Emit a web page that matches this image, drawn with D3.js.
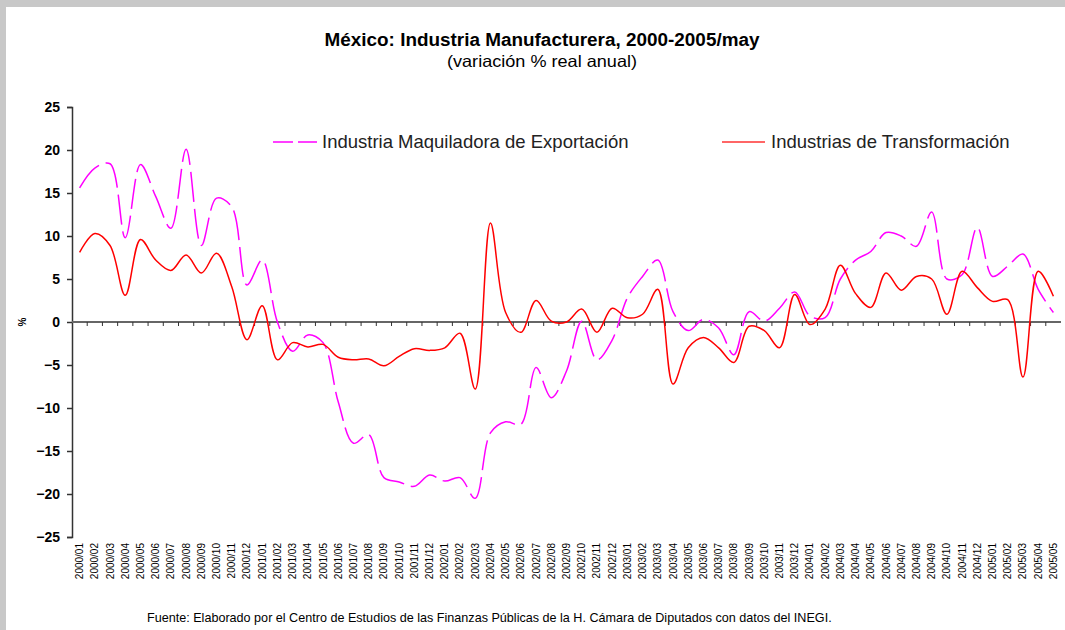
<!DOCTYPE html>
<html>
<head>
<meta charset="utf-8">
<script src="https://cdn.jsdelivr.net/npm/d3@7"></script>
<style>
  body { margin: 0; background: #fff; }
  text { font-family: "Liberation Sans", Arial, sans-serif; }
</style>
</head>
<body>
<div id="chart"></div>
<script>
// months 2000/01 .. 2005/05
const months = []
for (let y = 2000; y <= 2005; y++) {
  for (let m = 1; m <= 12; m++) {
    if (y === 2005 && m > 5) break
    months.push(y + "/" + String(m).padStart(2, "0"))
  }
}

// Industria Maquiladora de Exportación (% anual)
const maquiladora = [
  15.6, 17.9, 18.4, 9.8, 18.3, 14.6, 10.9, 20.1, 8.9, 14.4, 13.4, 4.3,
  7.2, 0.0, -3.4, -1.5, -2.4, -9.3, -14.1, -13.1, -18.1, -18.6, -19.1, -17.8,
  -18.5, -18.1, -20.5, -12.9, -11.6, -11.9, -5.3, -8.8, -5.7, 0.1, -4.4, -2.1,
  2.8, 5.3, 7.2, 1.2, -1.0, 0.3, -0.7, -3.8, 1.2, 0.1, 1.6, 3.5,
  0.7, 0.5, 5.0, 7.2, 8.2, 10.4, 10.0, 8.8, 12.8, 5.0, 5.5, 11.0,
  5.3, 6.5, 7.9, 3.8, 1.1
]

// Industrias de Transformación (% anual)
const transformacion = [
  8.1, 10.3, 8.9, 3.1, 9.6, 7.2, 6.0, 7.8, 5.7, 8.0, 4.1, -2.05,
  1.9, -4.4, -2.4, -2.9, -2.6, -4.1, -4.4, -4.3, -5.1, -4.0, -3.1, -3.3,
  -3.0, -1.3, -7.8, 11.5, 1.1, -1.2, 2.5, 0.1, 0.0, 1.5, -1.2, 1.6,
  0.5, 0.9, 3.8, -7.2, -3.0, -1.8, -3.0, -4.7, -0.5, -1.0, -3.0, 3.2,
  -0.3, 1.5, 6.6, 3.3, 1.7, 5.7, 3.7, 5.3, 5.0, 0.9, 5.9, 4.0,
  2.4, 2.6, -6.4, 5.9, 3.0
]

const yTicks = [25, 20, 15, 10, 5, 0, -5, -10, -15, -20, -25]

const W = 1065, H = 630
const plot = {left: 72, right: 1061, top: 107, bottom: 537}

const svg = d3.select("#chart").append("svg").attr("width", W).attr("height", H)

// gray frame
svg.append("rect").attr("width", W).attr("height", H).attr("fill", "#c8c8c8")
svg.append("rect").attr("x", 6).attr("y", 7).attr("width", W - 6).attr("height", H - 7).attr("fill", "#fff")

const x = d3.scalePoint().domain(months).range([plot.left, plot.right]).padding(0.5)
const y = d3.scaleLinear().domain([-25, 25]).range([plot.bottom, plot.top])
const step = x.step()

// titles
svg.append("text").attr("x", 542).attr("y", 46).attr("text-anchor", "middle")
  .attr("font-size", 17.5).attr("font-weight", "bold").attr("fill", "#000")
  .attr("textLength", 435).attr("lengthAdjust", "spacingAndGlyphs")
  .text("México: Industria Manufacturera, 2000-2005/may")
svg.append("text").attr("x", 542).attr("y", 67).attr("text-anchor", "middle")
  .attr("font-size", 16.5).attr("fill", "#000")
  .attr("textLength", 190).attr("lengthAdjust", "spacingAndGlyphs")
  .text("(variación % real anual)")

// y axis
const yAxis = d3.axisLeft(y).tickValues(yTicks).tickSize(5).tickPadding(7)
const gy = svg.append("g").attr("transform", `translate(${plot.left},0)`).call(yAxis)
gy.select(".domain").attr("stroke", "#333").attr("stroke-width", 1.5)
gy.selectAll(".tick line").attr("stroke", "#333").attr("stroke-width", 1.5)
gy.selectAll(".tick text").attr("font-size", 14).attr("font-weight", "bold")
  .attr("fill", "#000").style("font-family", "'Liberation Sans', Arial, sans-serif")

svg.append("text").attr("transform", `translate(26,${y(0)}) rotate(-90)`)
  .attr("text-anchor", "middle").attr("font-size", 10).attr("font-weight", "bold").text("%")

// x axis along zero, ticks between categories
const gx = svg.append("g")
gx.append("line").attr("x1", plot.left).attr("x2", plot.right)
  .attr("y1", y(0)).attr("y2", y(0)).attr("stroke", "#666").attr("stroke-width", 2)
gx.selectAll("line.tk").data(months.slice(1)).join("line").attr("class", "tk")
  .attr("x1", d => x(d) - step / 2).attr("x2", d => x(d) - step / 2)
  .attr("y1", y(0)).attr("y2", y(0) + 4).attr("stroke", "#333").attr("stroke-width", 1)

// month labels at bottom
svg.append("g").selectAll("text").data(months).join("text")
  .attr("transform", d => `translate(${x(d) + 3.5},543) rotate(-90)`)
  .attr("text-anchor", "end").attr("font-size", 10).attr("fill", "#000")
  .text(d => d)

// lines
const line = d3.line().x((d, i) => x(months[i])).y(d => y(d)).curve(d3.curveCatmullRom.alpha(0.5))

svg.append("path").datum(maquiladora).attr("d", line)
  .attr("fill", "none").attr("stroke", "#ff00ff").attr("stroke-width", 1.5)
  .attr("stroke-dasharray", "30,7")
svg.append("path").datum(transformacion).attr("d", line)
  .attr("fill", "none").attr("stroke", "#ff0000").attr("stroke-width", 1.5)

// legend
const lg = svg.append("g")
lg.append("line").attr("x1", 273).attr("x2", 317).attr("y1", 142).attr("y2", 142)
  .attr("stroke", "#ff00ff").attr("stroke-width", 1.5).attr("stroke-dasharray", "20,5")
lg.append("text").attr("x", 322).attr("y", 148).attr("font-size", 18.5).attr("fill", "#222")
  .text("Industria Maquiladora de Exportación")
lg.append("line").attr("x1", 722).attr("x2", 765).attr("y1", 142).attr("y2", 142)
  .attr("stroke", "#ff3333").attr("stroke-width", 1.5)
lg.append("text").attr("x", 771).attr("y", 148).attr("font-size", 18.5).attr("fill", "#222")
  .text("Industrias de Transformación")

// source
svg.append("text").attr("x", 147).attr("y", 622).attr("font-size", 12.6).attr("fill", "#000")
  .text("Fuente: Elaborado por el Centro de Estudios de las Finanzas Públicas de la H. Cámara de Diputados con datos del INEGI.")
</script>
</body>
</html>
